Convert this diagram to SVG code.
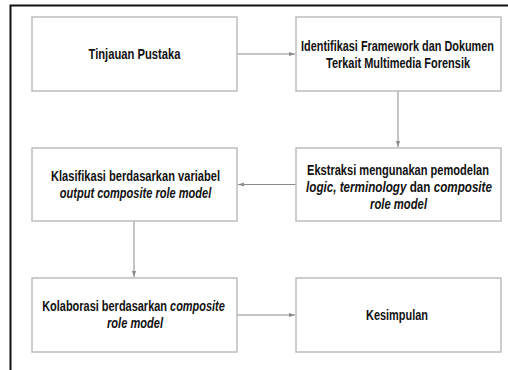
<svg xmlns="http://www.w3.org/2000/svg" width="508" height="370" viewBox="0 0 508 370">
<style>
.frame{fill:none;stroke:#111;stroke-width:2}
.box{fill:#fff;stroke:#bdbdbd;stroke-width:1.5}
.conn{fill:none;stroke:#8a8a8a;stroke-width:1}
text{font-family:"Liberation Sans",Arial,sans-serif;font-weight:bold;font-size:14px;fill:#111;text-anchor:middle}
.i{font-style:italic}
</style>
<defs>
<marker id="ah" viewBox="0 0 10 10" refX="10" refY="5" markerWidth="6" markerHeight="6" orient="auto" markerUnits="userSpaceOnUse">
<path d="M0,1.5 L10,5 L0,8.5 Z" fill="#8a8a8a"/>
</marker>
</defs>
<rect width="508" height="370" fill="#fff"/>
<path class="frame" d="M10.5,370 V5.5 H508"/>
<g id="connectors">
<path class="conn" d="M237,54 H295" marker-end="url(#ah)"/>
<path class="conn" d="M398,91 V147" marker-end="url(#ah)"/>
<path class="conn" d="M296,184.5 H238" marker-end="url(#ah)"/>
<path class="conn" d="M134,221 V277" marker-end="url(#ah)"/>
<path class="conn" d="M237,315 H295" marker-end="url(#ah)"/>
</g>
<g id="n1">
<rect class="box" x="32" y="17" width="205" height="74"/>
<text transform="translate(134.5,59) scale(0.79,1)" textLength="116.5" lengthAdjust="spacingAndGlyphs">Tinjauan Pustaka</text>
</g>
<g id="n2">
<rect class="box" x="296" y="17" width="205" height="74"/>
<text transform="translate(397.5,50.5) scale(0.79,1)" textLength="244.3" lengthAdjust="spacingAndGlyphs">Identifikasi Framework dan Dokumen</text>
<text transform="translate(398,68) scale(0.79,1)" textLength="182.3" lengthAdjust="spacingAndGlyphs">Terkait Multimedia Forensik</text>
</g>
<g id="n3">
<rect class="box" x="296" y="148" width="205" height="73"/>
<text transform="translate(398,174.5) scale(0.79,1)" textLength="230.4" lengthAdjust="spacingAndGlyphs">Ekstraksi mengunakan pemodelan</text>
<text transform="translate(399,191.5) scale(0.79,1)" textLength="235.4" lengthAdjust="spacingAndGlyphs"><tspan class="i">logic, terminology</tspan> dan <tspan class="i">composite</tspan></text>
<text class="i" transform="translate(398.5,208.5) scale(0.79,1)" textLength="72.2" lengthAdjust="spacingAndGlyphs">role model</text>
</g>
<g id="n4">
<rect class="box" x="32" y="148" width="205" height="73"/>
<text transform="translate(135.5,180.5) scale(0.79,1)" textLength="213.9" lengthAdjust="spacingAndGlyphs">Klasifikasi berdasarkan variabel</text>
<text class="i" transform="translate(135.5,198) scale(0.79,1)" textLength="191.9" lengthAdjust="spacingAndGlyphs">output composite role model</text>
</g>
<g id="n5">
<rect class="box" x="32" y="278" width="205" height="74"/>
<text transform="translate(133.5,310.5) scale(0.79,1)" textLength="231.3" lengthAdjust="spacingAndGlyphs">Kolaborasi berdasarkan <tspan class="i">composite</tspan></text>
<text class="i" transform="translate(135,328) scale(0.79,1)" textLength="70.9" lengthAdjust="spacingAndGlyphs">role model</text>
</g>
<g id="n6">
<rect class="box" x="296" y="278" width="205" height="74"/>
<text transform="translate(397,319.5) scale(0.79,1)" textLength="78.5" lengthAdjust="spacingAndGlyphs">Kesimpulan</text>
</g>
</svg>
